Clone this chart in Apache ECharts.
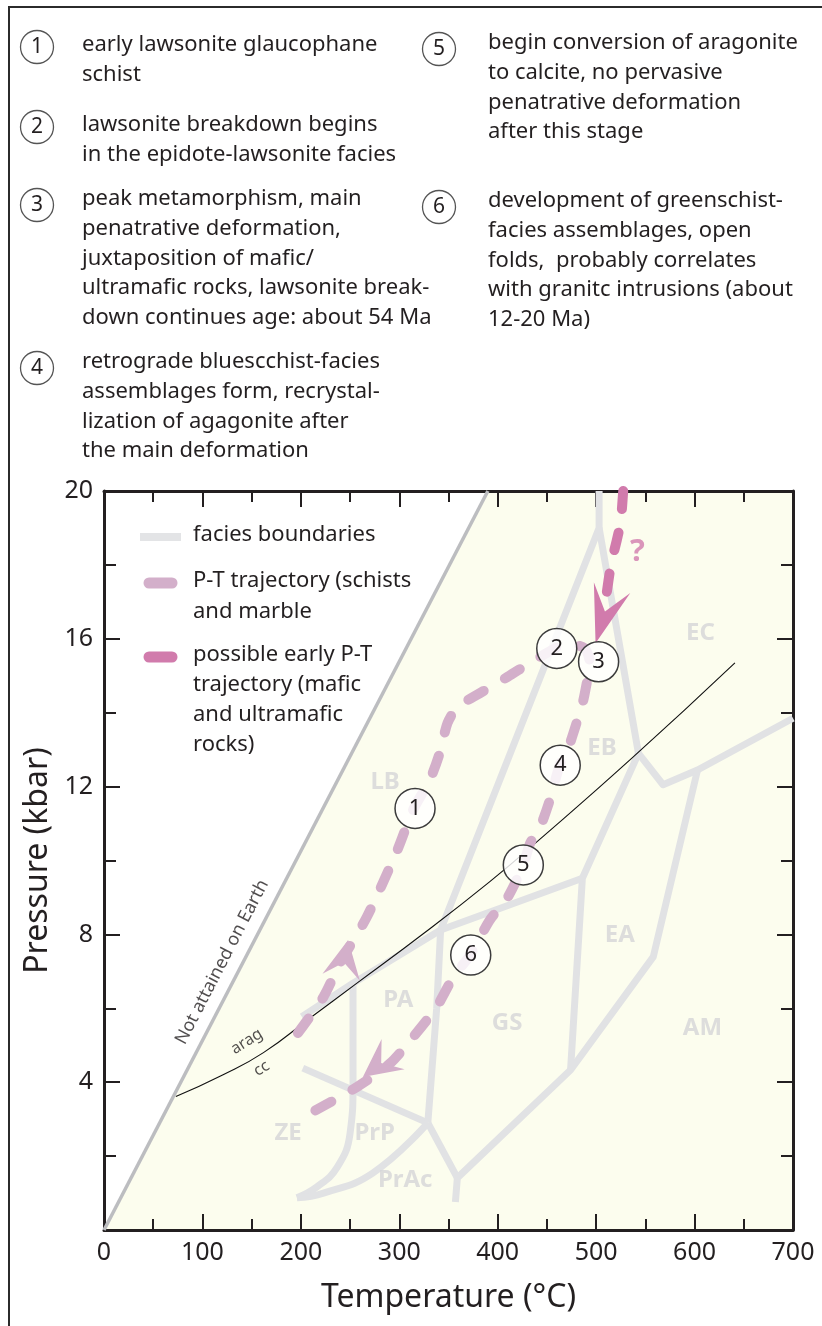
<!DOCTYPE html>
<html>
<head>
<meta charset="utf-8">
<script src="https://cdn.jsdelivr.net/npm/echarts@6/dist/echarts.min.js"></script>
<style>
  html, body { margin: 0; padding: 0; background: #fff; }
  #chart { width: 822px; height: 1326px; }
</style>
</head>
<body>
<div id="chart"></div>
<script>
var FONT = '"Noto Sans", "Open Sans", sans-serif';
var INK = '#231f20';
var FACIES = '#e1e2e4';
var SCHIST = '#d3afca';
var MAFIC = '#d17bac';

// upper bound of P-T conditions reached on Earth
var earthLimit = [[0, 0], [390, 20]];

// facies boundaries, [T degC, P kbar]
var bndLbEb = [[503, 20], [503, 19.0], [342, 8.12], [338, 6.0], [329, 2.9]];
var bndEcEb = [[503, 19.0], [543, 12.9], [568, 12.05], [603, 12.45], [700, 13.85]];
var bndEbEa = [[543, 12.9], [486, 9.52], [474, 4.33]];
var bndEaAm = [[603, 12.45], [558, 7.39], [474, 4.33], [359, 1.41], [357, 0.76]];
var bndPaTop = [[201, 5.77], [253, 6.68], [342, 8.12], [402, 8.7], [486, 9.52]];
var bndZePrp = [[253, 6.68], [253, 3.98], [250, 2.62], [237, 1.7], [216, 1.16], [196, 0.87]];
var bndPrpPrac = [[196, 0.87], [223, 1.0], [273, 1.54], [329, 2.9]];
var bndZePa = [[202, 4.38], [329, 2.9]];
var bndPracGs = [[329, 2.9], [359, 1.41]];
var straightBounds = [bndLbEb, bndEcEb, bndEbEa, bndEaAm, bndPaTop, bndZePa, bndPracGs];
var curvedBounds = [bndZePrp, bndPrpPrac];

// aragonite = calcite reaction
var aragCc = [[73, 3.61], [121, 4.2], [162, 4.8], [209, 5.73], [257, 6.68], [325, 8.03],
  [392, 9.43], [440, 10.51], [538, 12.81], [641, 15.35]];

// P-T trajectory of schists and marble
var schistPath = [[197, 5.33], [223, 6.31], [240, 7.23], [267, 8.47], [298, 10.28], [314, 11.37],
  [331, 12.18], [341, 12.9], [349, 13.72], [359, 14.15], [382, 14.53], [410, 14.97], [443, 15.51],
  [470, 15.85], [488, 15.75], [494, 15.3], [491, 14.88], [487, 14.34], [481, 13.8], [472, 13.07],
  [463, 12.58], [453, 11.64], [443, 10.9], [433, 10.47], [426, 9.88], [410, 9.0], [392, 8.39],
  [372, 7.44], [355, 6.85], [338, 6.04], [314, 5.22], [291, 4.52], [257, 3.87], [206, 3.11]];
// possible early trajectory of mafic / ultramafic rocks
var maficPath = [[527.5, 20], [525, 19.17], [521, 18.67], [515, 18.0], [510, 17.1]];

// arrowheads: tip T, tip P, tail T, tail P
var schistArrows = [[248, 7.85, 243, 7.13], [263, 4.14, 302, 4.93]];
var maficArrows = [[499.4, 15.88, 509, 16.74]];

// numbered stages
var stageNo = ['1', '2', '3', '4', '5', '6'];
var stageT = [316, 460, 502.5, 463.5, 426, 372.6];
var stageP = [11.41, 15.74, 15.38, 12.58, 9.88, 7.44];

// facies field names
var faciesName = ['LB', 'EB', 'EC', 'PA', 'ZE', 'PrP', 'PrAc', 'GS', 'EA', 'AM'];
var faciesT = [285.6, 506, 606, 299, 187, 275, 306, 409.6, 524, 608];
var faciesP = [12.12, 13.04, 16.15, 6.22, 2.62, 2.62, 1.35, 5.6, 7.98, 5.47];

var notesLeft = [
  ['1', ['early lawsonite glaucophane', 'schist']],
  ['2', ['lawsonite breakdown begins', 'in the epidote-lawsonite facies']],
  ['3', ['peak metamorphism, main', 'penatrative deformation,', 'juxtaposition of mafic/',
         'ultramafic rocks, lawsonite break-', 'down continues age: about 54 Ma']],
  ['4', ['retrograde bluescchist-facies', 'assemblages form, recrystal-',
         'lization of agagonite after', 'the main deformation']]
];
var notesRight = [
  ['5', ['begin conversion of aragonite', 'to calcite, no pervasive',
         'penatrative deformation', 'after this stage']],
  ['6', ['development of greenschist-', 'facies assemblages, open',
         'folds,  probably correlates', 'with granitc intrusions (about', '12-20 Ma)']]
];
var notesLeftY = [45, 125, 199, 362];
var notesRightY = [43, 201];

var chart = echarts.init(document.getElementById('chart'));

function noteGraphics(notes, startY, cx, tx) {
  var els = [];
  notes.forEach(function (note, i) {
    var y0 = startY[i];
    var cy = y0 + (note[1].length > 2 ? 6 : 2);
    els.push({
      type: 'circle', shape: { cx: cx, cy: cy, r: 16.5 },
      style: { fill: '#fff', stroke: '#555', lineWidth: 1.3 }
    });
    els.push({
      type: 'text', x: cx, y: cy,
      style: { text: note[0], font: '21px ' + FONT, fill: INK, align: 'center', verticalAlign: 'middle' }
    });
    note[1].forEach(function (line, j) {
      els.push({
        type: 'text', x: tx, y: y0 + j * 29.7,
        style: { text: line, font: '22px ' + FONT, fill: INK, verticalAlign: 'middle' }
      });
    });
  });
  return els;
}

var legendEls = [
  { type: 'line', shape: { x1: 140, y1: 537, x2: 181, y2: 537 }, style: { stroke: '#e3e4e6', lineWidth: 8 } },
  { type: 'line', shape: { x1: 149, y1: 583, x2: 172, y2: 583 }, style: { stroke: SCHIST, lineWidth: 11, lineCap: 'round' } },
  { type: 'line', shape: { x1: 149, y1: 657, x2: 172, y2: 657 }, style: { stroke: MAFIC, lineWidth: 11, lineCap: 'round' } }
];
[['facies boundaries', 535], ['P-T trajectory (schists', 581], ['and marble', 612],
 ['possible early P-T', 655], ['trajectory (mafic', 685], ['and ultramafic', 715], ['rocks)', 745]
].forEach(function (t) {
  legendEls.push({
    type: 'text', x: 193, y: t[1],
    style: { text: t[0], font: '22px ' + FONT, fill: INK, verticalAlign: 'middle' }
  });
});

function arrowSeries(data, color, len, wid, notch) {
  return {
    type: 'custom',
    data: data,
    z: 6,
    silent: true,
    encode: { x: 0, y: 1 },
    renderItem: function (params, api) {
      var p = api.coord([api.value(0), api.value(1)]);
      var q = api.coord([api.value(2), api.value(3)]);
      var dx = p[0] - q[0], dy = p[1] - q[1];
      var d = Math.sqrt(dx * dx + dy * dy);
      var ux = dx / d, uy = dy / d, nx = -uy, ny = ux;
      var bx = p[0] - len * ux, by = p[1] - len * uy;
      return {
        type: 'polygon',
        shape: {
          points: [
            p,
            [bx + nx * wid / 2, by + ny * wid / 2],
            [p[0] - notch * ux, p[1] - notch * uy],
            [bx - nx * wid / 2, by - ny * wid / 2]
          ]
        },
        style: { fill: color }
      };
    }
  };
}

var series = [];
// reachable field tinted
series.push({
  type: 'line', data: earthLimit.concat([[700, 20]]), symbol: 'none', z: -1, silent: true,
  lineStyle: { width: 0 }, areaStyle: { color: '#fcfdee', opacity: 1 }
});
series.push({
  type: 'line', data: earthLimit, symbol: 'none', silent: true,
  lineStyle: { color: '#bcbdc0', width: 3.5 }
});
straightBounds.forEach(function (b) {
  series.push({
    type: 'line', data: b, symbol: 'none', silent: true, z: 2,
    lineStyle: { color: FACIES, width: 7, join: 'round', cap: 'butt' }
  });
});
curvedBounds.forEach(function (b) {
  series.push({
    type: 'line', data: b, symbol: 'none', smooth: 0.45, silent: true, z: 2,
    lineStyle: { color: FACIES, width: 7, join: 'round', cap: 'butt' }
  });
});
series.push({
  type: 'line', data: aragCc, symbol: 'none', smooth: 0.5, silent: true, z: 3,
  lineStyle: { color: '#111', width: 1.1 }
});
series.push({
  type: 'line', data: schistPath, symbol: 'none', smooth: 0.25, silent: true, z: 4,
  lineStyle: { color: SCHIST, width: 10, type: [18, 24], cap: 'round', join: 'round' }
});
series.push({
  type: 'line', data: maficPath, symbol: 'none', smooth: 0.2, silent: true, z: 4,
  lineStyle: { color: MAFIC, width: 10, type: [18, 24], cap: 'round', join: 'round' }
});
series.push(arrowSeries(schistArrows, SCHIST, 38, 38, 23));
series.push(arrowSeries(maficArrows, MAFIC, 58, 38, 33));
series.push({
  type: 'scatter', symbolSize: 0, silent: true, z: 5,
  data: faciesName.map(function (n, i) { return { value: [faciesT[i], faciesP[i]], name: n }; }),
  label: {
    show: true, position: 'inside', formatter: '{b}',
    fontFamily: FONT, fontWeight: 'bold', fontSize: 24, color: '#d4d5d7'
  }
});
series.push({
  type: 'scatter', symbolSize: 0, silent: true, z: 5,
  data: [
    { value: [120, 7.25], name: 'Not attained on Earth', label: { rotate: 62.6, fontSize: 18 } },
    { value: [145, 5.1], name: 'arag', label: { rotate: 32 } },
    { value: [160, 4.37], name: 'cc', label: { rotate: 32 } },
    { value: [542, 18.35], name: '?', label: { fontSize: 31, fontWeight: 'bold', color: MAFIC } }
  ],
  label: { show: true, position: 'inside', formatter: '{b}', fontFamily: FONT, fontSize: 16, color: INK }
});
series.push({
  type: 'scatter', symbol: 'circle', symbolSize: 40, silent: true, z: 7,
  itemStyle: { color: 'rgba(255,255,255,0.82)', borderColor: '#3c3c3c', borderWidth: 1.5, opacity: 1 },
  data: stageNo.map(function (n, i) { return { value: [stageT[i], stageP[i]], name: n }; }),
  label: { show: true, position: 'inside', formatter: '{b}', fontFamily: FONT, fontSize: 22, color: INK }
});

var tickStyle = { color: INK, width: 2 };
function xAx(pos, showLabel) {
  return {
    type: 'value', min: 0, max: 700, interval: 100, position: pos,
    axisLine: { show: true, onZero: false, lineStyle: { color: INK, width: 3 } },
    axisTick: { show: true, inside: true, length: 16, lineStyle: tickStyle },
    minorTick: { show: true, splitNumber: 2, length: 11, lineStyle: tickStyle },
    axisLabel: { show: showLabel, fontSize: 25, color: INK, margin: 10, fontFamily: FONT },
    splitLine: { show: false },
    name: showLabel ? 'Temperature (\u00B0C)' : '', nameLocation: 'middle', nameGap: 52,
    nameTextStyle: { fontSize: 32, color: INK, fontFamily: FONT }
  };
}
function yAx(pos, showLabel) {
  return {
    type: 'value', min: 0, max: 20, interval: 4, position: pos,
    axisLine: { show: true, onZero: false, lineStyle: { color: INK, width: 3 } },
    axisTick: { show: true, inside: true, length: 16, lineStyle: tickStyle },
    minorTick: { show: true, splitNumber: 2, length: 12, lineStyle: tickStyle },
    axisLabel: {
      show: showLabel, fontSize: 25, color: INK, margin: 11, fontFamily: FONT,
      formatter: function (v) { return v === 0 ? '' : v; }
    },
    splitLine: { show: false },
    name: showLabel ? 'Pressure (kbar)' : '', nameLocation: 'middle', nameGap: 49,
    nameTextStyle: { fontSize: 32, color: INK, fontFamily: FONT }
  };
}

chart.setOption({
  animation: false,
  backgroundColor: '#fff',
  grid: { left: 104, top: 491, width: 689, height: 739, containLabel: false },
  xAxis: [xAx('bottom', true), xAx('top', false)],
  yAxis: [yAx('left', true), yAx('right', false)],
  series: series,
  graphic: [
    { type: 'polyline', shape: { points: [[9, 1330], [9, 7], [830, 7]] }, style: { stroke: '#2b2b2b', lineWidth: 2, fill: null } }
  ].concat(legendEls, noteGraphics(notesLeft, notesLeftY, 37, 82), noteGraphics(notesRight, notesRightY, 439, 488))
});
</script>
</body>
</html>
